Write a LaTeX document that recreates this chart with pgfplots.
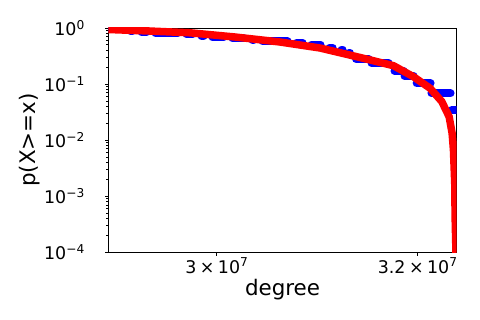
\documentclass[border=0pt]{standalone}
\usepackage{fontspec}
\setmainfont{DejaVu Sans}
\usepackage{pgfplots}
\pgfplotsset{compat=1.18}

% degree in units of 10^7 (a log axis over 3e7 overflows TeX dimensions)
% step levels of the empirical ccdf (blue), one segment per level
\pgfplotstableread{
x p
2.88967 0.98776
2.90595 0.98776
nan nan
2.91155 0.94028
2.91249 0.94028
nan nan
2.91811 0.89140
2.91998 0.89140
nan nan
2.92843 0.84151
2.93314 0.84151
nan nan
2.94162 0.80766
2.96248 0.80766
nan nan
2.97105 0.77197
2.97678 0.77197
nan nan
2.98539 0.71415
2.98731 0.71415
nan nan
2.99596 0.67699
3.00656 0.67699
nan nan
3.01526 0.64976
3.02593 0.64976
nan nan
3.03468 0.61076
3.03566 0.61076
nan nan
3.04444 0.57903
3.06898 0.57903
nan nan
3.07786 0.54446
3.08380 0.54446
nan nan
3.09272 0.50767
3.10167 0.50767
nan nan
3.11065 0.44338
3.11365 0.44338
nan nan
3.12266 0.41352
3.12366 0.41352
nan nan
3.13019 0.36119
3.13119 0.36119
nan nan
3.13723 0.28224
3.14985 0.28224
nan nan
3.15288 0.23754
3.17014 0.23754
nan nan
3.17625 0.17245
3.18544 0.17245
nan nan
3.18647 0.13929
3.19569 0.13929
nan nan
3.19877 0.10318
3.21318 0.10318
nan nan
3.21421 0.06844
3.23388 0.06844
nan nan
3.23492 0.03447
3.24897 0.03447
}\ccdf

% fitted curve (red)
\pgfplotstableread{
x p
2.88967 0.9519
2.89710 0.94028
2.93549 0.88412
2.97439 0.82108
3.01768 0.69103
3.06160 0.56270
3.10117 0.43975
3.14126 0.29778
3.17503 0.21271
3.19548 0.13530
3.21266 0.08406
3.22476 0.04889
3.23232 0.02618
3.23564 0.01324
3.23700 0.006670
3.23824 0.001699
3.23855 0.000431
3.23928 0.0001258
3.23960 0.0000593
}\fit

\newcommand\tms{\hspace{0.2em}×\hspace{0.2em}}

\begin{document}
\begin{tikzpicture}
\path[use as bounding box] (-108.3bp,-67.7bp) rectangle (371.7bp,252.3bp);
\begin{axis}[
    at={(0,0)}, anchor=south west,
    scale only axis,
    width=348.4bp, height=224.3bp,
    xmode=log, ymode=log,
    xmin=2.89738, xmax=3.24033,
    ymin=1e-4, ymax=1,
    xtick={3,3.2},
    xticklabels={3\tms10\textsuperscript{7}, 3.2\tms10\textsuperscript{7}},
    xminorticks=false,
    ytick={1e-4,1e-3,1e-2,1e-1,1},
    yticklabels={10\textsuperscript{−4},10\textsuperscript{−3},10\textsuperscript{−2},10\textsuperscript{−1},10\textsuperscript{0}},
    minor ytick={2e-4,3e-4,4e-4,5e-4,6e-4,7e-4,8e-4,9e-4,
                 2e-3,3e-3,4e-3,5e-3,6e-3,7e-3,8e-3,9e-3,
                 2e-2,3e-2,4e-2,5e-2,6e-2,7e-2,8e-2,9e-2,
                 0.2,0.3,0.4,0.5,0.6,0.7,0.8,0.9},
    tick align=outside, tick pos=left,
    major tick length=3.5bp, minor tick length=2bp,
    every tick/.style={black, line width=0.8bp},
    axis line style={line width=0.8bp},
    tick label style={font=\fontsize{17.5}{20}\selectfont},
    yticklabel style={anchor=east, inner sep=0pt, xshift=-20bp},
    xticklabel style={anchor=north, inner sep=0pt, yshift=-2bp},
    label style={font=\fontsize{21.5}{25}\selectfont},
    xlabel={degree}, ylabel={p(X>=x)},
    xlabel style={at={(axis description cs:0.5,-0.1681)}, anchor=center},
    ylabel style={at={(axis description cs:-0.2247,0.5)}, anchor=center},
    unbounded coords=jump,
]
\addplot[blue, line width=8bp, line cap=round, line join=round] table[x=x, y=p] {\ccdf};
\addplot[red, line width=7.5bp] table[x=x, y=p] {\fit};
\end{axis}
\end{tikzpicture}
\end{document}
